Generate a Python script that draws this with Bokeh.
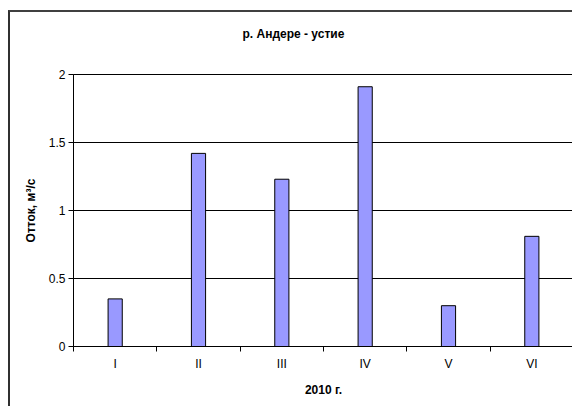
from bokeh.embed import file_html
from bokeh.models import (ColumnDataSource, FixedTicker, NumeralTickFormatter,
                          Title)
from bokeh.plotting import figure
from bokeh.resources import INLINE

# Monthly runoff, river Andere at its mouth, 2010
months = ["I", "II", "III", "IV", "V", "VI"]
runoff = [0.35, 1.42, 1.23, 1.91, 0.30, 0.81]

title_text = "р. Андере - устие"
y_title = "Отток, м³/с"
x_title = "2010 г."

FONT = "Liberation Sans"
SIZE = "12px"

positions = [i + 0.5 for i in range(len(months))]
src = ColumnDataSource(data=dict(x=positions, top=runoff, month=months))

p = figure(width=564, height=396, x_range=(0, len(months)), y_range=(0, 2),
           output_backend="svg", toolbar_location=None,
           min_border_left=63, min_border_right=1,
           min_border_top=62, min_border_bottom=62,
           margin=(10, 0, 0, 8),
           styles={"border-top": "2px solid #404040",
                   "border-left": "2px solid #303030"})
p.background_fill_color = "white"
p.border_fill_color = "white"
p.outline_line_color = "black"
p.outline_line_width = 1

# blank gap between the chart title and the plot area
p.add_layout(Title(text=" ", text_font=FONT, text_font_size=SIZE,
                   standoff=11), "above")

p.title.text = title_text
p.title.align = "left"
p.title.offset = 169
p.title.vertical_align = "top"
p.title.standoff = 10
p.title.text_font = FONT
p.title.text_font_size = SIZE
p.title.text_font_style = "bold"
p.title.text_color = "black"

p.vbar(x="x", top="top", width=0.17, source=src,
       fill_color="#9999FF", line_color="black", line_width=1)

# x axis: labels at category centres, tick marks between categories
xa = p.xaxis[0]
xa.ticker = FixedTicker(ticks=positions,
                        minor_ticks=list(range(len(months) + 1)))
xa.major_label_overrides = {pos: m for pos, m in zip(positions, months)}
xa.major_tick_line_color = None
xa.major_tick_out = 5
xa.major_tick_in = 0
xa.minor_tick_line_color = "black"
xa.minor_tick_out = 5
xa.minor_tick_in = 0
xa.major_label_standoff = 5
xa.major_label_text_font = FONT
xa.major_label_text_font_size = SIZE
xa.major_label_text_color = "black"
xa.axis_line_color = "black"
xa.axis_label = x_title
xa.axis_label_standoff = 9
xa.axis_label_text_font = FONT
xa.axis_label_text_font_size = SIZE
xa.axis_label_text_font_style = "bold"
xa.axis_label_text_color = "black"

# y axis
ya = p.yaxis[0]
ya.ticker = FixedTicker(ticks=[0, 0.5, 1, 1.5, 2], minor_ticks=[])
ya.formatter = NumeralTickFormatter(format="0.[0]")
ya.major_tick_out = 5
ya.major_tick_in = 0
ya.major_tick_line_color = "black"
ya.major_label_standoff = 3
ya.major_label_text_font = FONT
ya.major_label_text_font_size = SIZE
ya.major_label_text_color = "black"
ya.axis_line_color = "black"
ya.axis_label = y_title
ya.axis_label_standoff = 8
ya.axis_label_text_font = FONT
ya.axis_label_text_font_size = SIZE
ya.axis_label_text_font_style = "bold"
ya.axis_label_text_color = "black"

p.xgrid.grid_line_color = None
p.ygrid.ticker = FixedTicker(ticks=[0.5, 1, 1.5, 2])
p.ygrid.grid_line_color = "black"
p.ygrid.grid_line_width = 1

open("out.html", "w").write(file_html(p, INLINE))
